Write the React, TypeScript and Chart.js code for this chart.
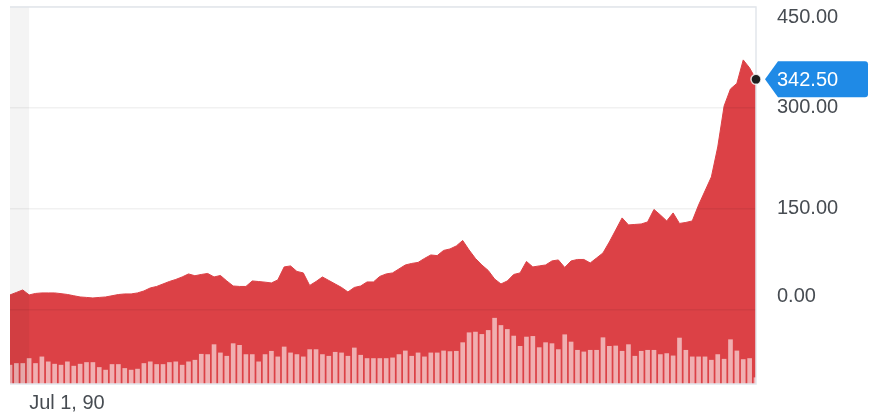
import React, { useEffect, useRef } from 'react';
import { Chart, registerables } from 'chart.js';

Chart.register(...registerables);

// Price series (one point per trading day)
const prices = [
  22.3, 26.0, 29.7, 22.3, 24.5, 25.3, 25.3, 25.3, 24.2, 23.0,
  21.1, 19.3, 18.6, 17.8, 18.6, 19.3, 21.1, 22.9, 23.8, 23.8,
  25.3, 28.2, 32.7, 34.9, 38.6, 42.3, 45.3, 49.0, 53.5, 50.8,
  52.7, 54.2, 49.0, 51.2, 43.1, 35.6, 34.9, 34.9, 43.1, 42.2,
  41.3, 40.1, 44.6, 63.9, 65.4, 57.2, 55.0, 36.4, 42.3, 49.0,
  43.8, 38.6, 33.4, 26.7, 33.4, 35.6, 41.6, 41.6, 49.8, 53.5,
  55.0, 60.9, 66.8, 69.1, 70.6, 76.5, 81.7, 80.7, 88.4, 90.6,
  95.1, 103.2, 89.1, 76.5, 66.8, 58.7, 46.0, 38.6, 43.1, 52.7,
  55.0, 72.0, 63.9, 65.4, 66.8, 72.8, 74.3, 63.1, 72.8, 75.0,
  75.0, 69.8, 77.2, 84.7, 101.0, 118.8, 136.7, 126.3, 127.0, 127.7,
  130.7, 149.3, 141.1, 132.2, 144.1, 128.5, 130.0, 132.2, 156.0, 176.8,
  197.6, 242.1, 303.0, 328.3, 336.5, 371.4, 359.5, 342.5,
];

// Volume series (millions)
const volumes = [
  5.7, 6.2, 6.2, 7.7, 6.2, 8.2, 6.7, 6.0, 5.7, 6.7,
  5.4, 6.0, 6.5, 6.5, 5.0, 4.2, 5.9, 5.9, 4.7, 4.2,
  4.5, 6.2, 6.7, 5.9, 5.9, 6.5, 6.7, 5.7, 6.7, 7.2,
  9.0, 8.9, 11.9, 9.4, 8.4, 12.2, 11.7, 8.9, 8.9, 6.7,
  8.9, 9.9, 8.2, 11.2, 9.4, 8.9, 8.2, 10.4, 10.4, 8.9,
  8.4, 9.6, 9.4, 8.4, 10.9, 8.7, 7.7, 7.7, 7.7, 7.7,
  7.9, 8.9, 10.0, 8.4, 9.4, 8.2, 9.4, 9.4, 10.0, 9.8,
  9.9, 12.5, 15.5, 15.7, 15.0, 16.2, 19.9, 17.7, 16.5, 14.5,
  11.4, 14.2, 14.4, 11.0, 12.5, 12.2, 10.4, 14.9, 12.7, 10.2,
  9.7, 10.2, 10.2, 14.0, 11.4, 11.5, 9.9, 11.9, 8.4, 9.9,
  10.2, 10.2, 8.9, 9.2, 8.5, 13.9, 10.2, 8.2, 8.2, 8.2,
  7.2, 8.9, 7.5, 13.4, 10.0, 7.4, 7.7, 1.9,
];

const categories = prices.map((_, i) => `d${i}`);
const yTicks = [0, 150, 300, 450];
const xTickIndex = [3];
const xTickText = ['Jul 1, 90'];
const shadeEndIndex = 3;
const yMin = -110;
const yMax = 450;
const volMax = 114;

const RED = '#dc4146';
const FONT = '20px "Liberation Sans", Arial, Helvetica, sans-serif';
const TEXT = '#474c52';
const FRAME = '#e2e6eb';
const BLUE = '#1f8ae6';

export default function App() {
  const ref = useRef<HTMLCanvasElement>(null);

  useEffect(() => {
    if (!ref.current) return;

    const overlay = {
      id: 'overlay',
      afterDatasetsDraw(chart: any) {
        const { ctx, chartArea } = chart;
        const xs = chart.scales.x;
        const xe = xs.getPixelForValue(shadeEndIndex);
        ctx.save();
        ctx.fillStyle = 'rgba(0,0,0,0.045)';
        ctx.fillRect(chartArea.left, chartArea.top, xe - chartArea.left, chartArea.bottom - chartArea.top);
        ctx.restore();
      },
      afterDraw(chart: any) {
        const { ctx, chartArea } = chart;
        const xs = chart.scales.x;
        const ys = chart.scales.y;
        const { left, right, top, bottom } = chartArea;
        ctx.save();
        // frame
        ctx.strokeStyle = FRAME;
        ctx.lineWidth = 1.5;
        ctx.beginPath();
        ctx.moveTo(left, top);
        ctx.lineTo(right, top);
        ctx.lineTo(right, bottom);
        ctx.lineTo(left, bottom);
        ctx.stroke();

        // y tick labels
        ctx.font = FONT;
        ctx.fillStyle = TEXT;
        ctx.textAlign = 'left';
        ctx.textBaseline = 'middle';
        const labelX = right + 21;
        yTicks.forEach((v) => {
          let y = ys.getPixelForValue(v);
          if (y < top + 10) y = top + 10;
          if (v === 0) y -= 13;
          ctx.fillText(v.toFixed(2), labelX, y);
        });

        // x tick labels
        ctx.textBaseline = 'middle';
        xTickIndex.forEach((idx, k) => {
          const x = xs.getPixelForValue(idx);
          ctx.fillText(xTickText[k], x, bottom + 19);
        });

        // last price marker
        const last = prices.length - 1;
        const px = xs.getPixelForValue(last);
        const py = ys.getPixelForValue(prices[last]);
        const tipX = right + 9;
        const bx = right + 22;
        const bw = right + 112;
        const h = 18;
        const r = 3;
        ctx.fillStyle = BLUE;
        ctx.beginPath();
        ctx.moveTo(tipX, py);
        ctx.lineTo(bx, py - h);
        ctx.lineTo(bw - r, py - h);
        ctx.quadraticCurveTo(bw, py - h, bw, py - h + r);
        ctx.lineTo(bw, py + h - r);
        ctx.quadraticCurveTo(bw, py + h, bw - r, py + h);
        ctx.lineTo(bx, py + h);
        ctx.closePath();
        ctx.fill();
        ctx.fillStyle = '#ffffff';
        ctx.fillText(prices[last].toFixed(2), labelX, py + 1);

        ctx.beginPath();
        ctx.arc(px, py, 5, 0, Math.PI * 2);
        ctx.fillStyle = '#1e1e1e';
        ctx.fill();
        ctx.lineWidth = 1.5;
        ctx.strokeStyle = 'rgba(255,255,255,0.8)';
        ctx.stroke();
        ctx.restore();
      },
    };

    const chart = new Chart(ref.current, {
      type: 'bar',
      data: {
        labels: categories,
        datasets: [
          {
            type: 'line',
            data: prices,
            borderColor: RED,
            backgroundColor: RED,
            borderWidth: 1,
            pointRadius: 0,
            tension: 0,
            fill: 'start',
            yAxisID: 'y',
            order: 2,
          } as any,
          {
            type: 'bar',
            data: volumes,
            backgroundColor: 'rgba(255,255,255,0.58)',
            barThickness: 4,
            yAxisID: 'v',
            order: 1,
          },
        ],
      },
      options: {
        responsive: false,
        animation: false,
        layout: { padding: { left: 10, top: 7, right: 115, bottom: 31 } },
        plugins: {
          legend: { display: false },
          tooltip: { enabled: false },
        },
        events: [],
        scales: {
          x: {
            type: 'category',
            offset: false,
            display: false,
            grid: { display: false },
          },
          y: {
            position: 'right',
            min: yMin,
            max: yMax,
            afterBuildTicks: (s: any) => {
              s.ticks = yTicks.map((v) => ({ value: v }));
            },
            ticks: { display: false },
            grid: { color: 'rgba(0,0,0,0.055)', lineWidth: 1.5, drawTicks: false, z: 1 },
            border: { display: false },
          },
          v: {
            display: false,
            min: 0,
            max: volMax,
          },
        },
      } as any,
      plugins: [overlay],
    });

    return () => chart.destroy();
  }, []);

  return (
    <div style={{ position: 'fixed', left: 0, top: 0, width: 871, height: 415, background: '#fff' }}>
      <canvas ref={ref} width={871} height={415} style={{ display: 'block' }} />
    </div>
  );
}
